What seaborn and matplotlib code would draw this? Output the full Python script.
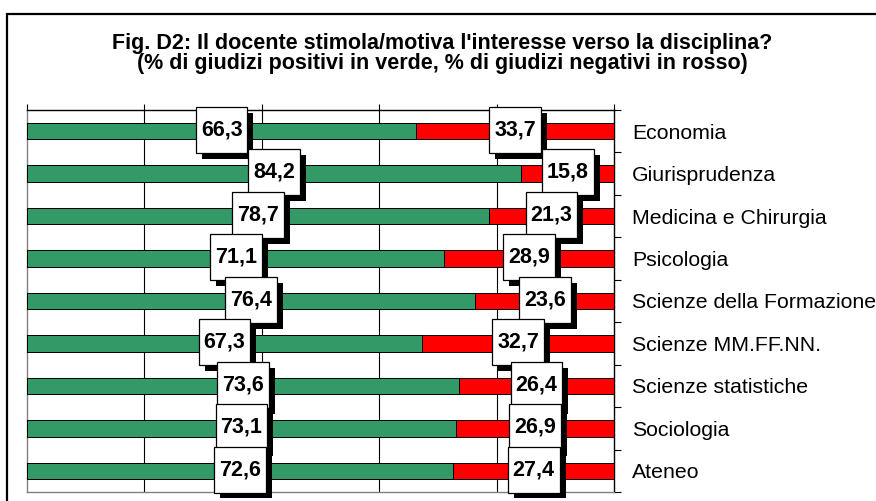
import numpy as np
import matplotlib
matplotlib.use("Agg")
import matplotlib.pyplot as plt
import matplotlib.patheffects as pe
from matplotlib.path import Path
from matplotlib.patches import Rectangle
import seaborn as sns

categories = ["Economia", "Giurisprudenza", "Medicina e Chirurgia", "Psicologia",
              "Scienze della Formazione", "Scienze MM.FF.NN.", "Scienze statistiche",
              "Sociologia", "Ateneo"]
positivi = [66.3, 84.2, 78.7, 71.1, 76.4, 67.3, 73.6, 73.1, 72.6]
negativi = [33.7, 15.8, 21.3, 28.9, 23.6, 32.7, 26.4, 26.9, 27.4]
value_ticks = [0, 20, 40, 60, 80, 100]
title_lines = ["Fig. D2: Il docente stimola/motiva l'interesse verso la disciplina?",
               "(% di giudizi positivi in verde, % di giudizi negativi in rosso)"]

GREEN = "#339966"
RED = "#FF0000"

sns.set_theme(style="white")
plt.rcParams["font.family"] = ["Liberation Sans", "DejaVu Sans"]

W, H = 876, 501
DPI = 100
fig = plt.figure(figsize=(W / DPI, H / DPI), dpi=DPI)
fig.patch.set_facecolor("white")

# outer border (top and left visible, right/bottom run off the canvas)
fig.patches.append(Rectangle((7 / W, -0.2), 1.5, 1.2 - 14 / H, transform=fig.transFigure,
                             fill=False, edgecolor="black", linewidth=1.6, zorder=0))

ax = fig.add_axes([27 / W, 1 - 492 / H, (614 - 27) / W, (492 - 110) / H])

totals = [p + n for p, n in zip(positivi, negativi)]
sns.barplot(x=totals, y=categories, orient="h", color=RED, saturation=1, width=0.39,
            edgecolor="black", linewidth=0.7, ax=ax, zorder=3)
sns.barplot(x=positivi, y=categories, orient="h", color=GREEN, saturation=1, width=0.39,
            edgecolor="black", linewidth=0.7, ax=ax, zorder=4)

ax.set_xlim(value_ticks[0], value_ticks[-1])
ax.set_ylim(len(categories) - 0.5, -0.5)
ax.set_xlabel("")
ax.set_ylabel("")

# value axis on top, no labels
ax.xaxis.tick_top()
ax.set_xticks(value_ticks)
ax.tick_params(axis="x", which="major", direction="out", length=4.5, width=0.8,
               color="black", labeltop=False, labelbottom=False, top=True, bottom=False)
for v in value_ticks[1:-1]:
    ax.axvline(v, color="black", linewidth=0.8, zorder=1)

# category axis on right
ax.yaxis.tick_right()
ax.set_yticks(range(len(categories)))
ax.set_yticklabels(categories)
ax.set_yticks(np.arange(-0.5, len(categories) + 0.5, 1), minor=True)
ax.tick_params(axis="y", which="major", length=0, pad=13, labelsize=15.3,
               labelright=True, labelleft=False, right=True, left=False)
ax.tick_params(axis="y", which="minor", length=5, width=0.8, color="black",
               right=True, left=False, direction="out")
for lab in ax.get_yticklabels():
    lab.set_color("black")

ax.grid(False)
for side in ["top", "right"]:
    ax.spines[side].set_color("black")
    ax.spines[side].set_linewidth(1.0)
for side in ["left", "bottom"]:
    ax.spines[side].set_color("#808080")
    ax.spines[side].set_linewidth(1.0)
for s in ax.spines.values():
    s.set_visible(True)


def tall_box(x0, y0, width, height, mutation_size):
    padx = 5.0 * DPI / 100
    hh = 46.0 * DPI / 100
    cy = y0 + height / 2
    L, R = x0 - padx, x0 + width + padx
    B, T = cy - hh / 2, cy + hh / 2
    return Path([(L, B), (R, B), (R, T), (L, T), (L, B)],
                [Path.MOVETO, Path.LINETO, Path.LINETO, Path.LINETO, Path.CLOSEPOLY])


def fmt(v):
    return f"{v:.1f}".replace(".", ",")


shadow = [pe.SimplePatchShadow(offset=(4.3, -4.3), shadow_rgbFace="black", alpha=1.0),
          pe.Normal()]
for i, (p, n) in enumerate(zip(positivi, negativi)):
    for xval, val in ((p / 2, p), (p + n / 2, n)):
        ax.text(xval, i - 0.03, fmt(val), ha="center", va="center", fontsize=15.5,
                fontweight="bold", color="black", zorder=10 + i, clip_on=False,
                bbox=dict(boxstyle=tall_box, facecolor="white", edgecolor="black",
                          linewidth=0.9, path_effects=shadow))

cx = 442 / W
fig.text(cx, 1 - 43 / H, title_lines[0], ha="center", va="center", fontsize=15.5,
         fontweight="bold", color="black")
fig.text(cx, 1 - 63 / H, title_lines[1], ha="center", va="center", fontsize=15.5,
         fontweight="bold", color="black")

fig.savefig("out.png", dpi=DPI, facecolor="white")
